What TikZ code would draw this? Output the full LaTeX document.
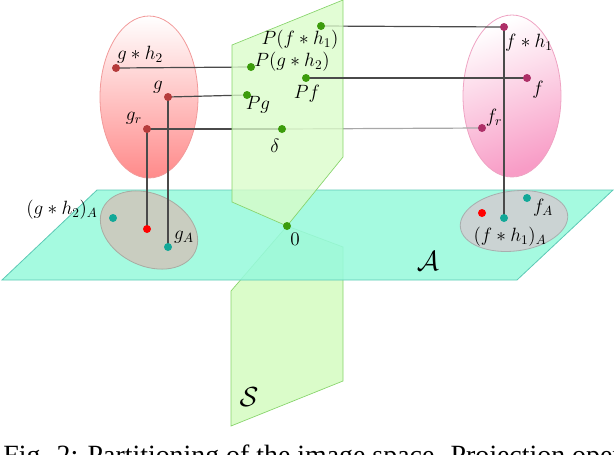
\documentclass[tikz,border=0pt]{standalone}
\usepackage{fontspec}
\newfontfamily\capfont{Liberation Serif}
\definecolor{cyanA}{HTML}{98F9DC}
\definecolor{cyanE}{HTML}{5CC9B5}
\definecolor{sgreen}{HTML}{DAFCC9}
\definecolor{sgreenE}{HTML}{86D46A}
\definecolor{greyL}{HTML}{C9CDC0}
\definecolor{greyLE}{HTML}{A9ABA2}
\definecolor{greyR}{HTML}{CBD3D3}
\definecolor{greyRE}{HTML}{A8AEAE}
\definecolor{redB}{HTML}{FF8A8A}
\definecolor{redM}{HTML}{FFD4D4}
\definecolor{redE}{HTML}{F29A9A}
\definecolor{pinkB}{HTML}{F89CC6}
\definecolor{pinkE}{HTML}{EFA3C3}
\definecolor{dotRed}{HTML}{B53B3B}
\definecolor{dotMag}{HTML}{AE3068}
\definecolor{dotGreen}{HTML}{3C9C0C}
\definecolor{dotTeal}{HTML}{12A898}
\definecolor{lineDark}{HTML}{4A4A4A}
\definecolor{lineLight}{HTML}{A8A8A8}
\begin{document}
\begin{tikzpicture}[x=0.75pt,y=-0.75pt,
  splane/.style={fill=sgreen, draw=sgreenE, line width=0.5pt},
  aplane/.style={fill=cyanA, draw=cyanE, line width=0.6pt},
  conn/.style={draw=lineDark, line width=0.9pt},
  connL/.style={draw=lineLight, line width=0.9pt},
  dotbase/.style={circle, inner sep=0pt, minimum size=6pt},
  rdot/.style={dotbase, fill=dotRed},
  mdot/.style={dotbase, fill=dotMag},
  gdot/.style={dotbase, fill=dotGreen},
  tdot/.style={dotbase, fill=dotTeal},
  xdot/.style={dotbase, fill=red},
  lbl/.style={inner sep=0pt, font=\fontsize{14}{16}\selectfont},
  biglbl/.style={inner sep=0pt, font=\fontsize{20}{22}\selectfont}]
\useasboundingbox (0,0) rectangle (614,454);
\clip (0,0) rectangle (614,454);

% point positions
\coordinate (gh2) at (116,68);
\coordinate (g) at (168,97);
\coordinate (gr) at (147,129);
\coordinate (Pfh1) at (321,26);
\coordinate (Pgh2) at (251,67);
\coordinate (Pf) at (306,78);
\coordinate (Pg) at (247,95);
\coordinate (delta) at (282,129);
\coordinate (fh1) at (504,27);
\coordinate (f) at (527,78);
\coordinate (fr) at (482,128);
\coordinate (gh2A) at (113,218);
\coordinate (gRed) at (147,229);
\coordinate (gA) at (168,247);
\coordinate (zero) at (287,226);
\coordinate (fRed) at (482,213);
\coordinate (fA) at (527,198);
\coordinate (fh1A) at (504,218);

% lower part of S
\draw[splane] (zero) -- (231,291) -- (231,426) -- (343,381) -- (343,247) -- cycle;
% plane A
\draw[aplane, fill opacity=0.88] (97,190) -- (613,190) -- (517,280) -- (2,280) -- cycle;
% grey sets on A
\draw[fill=greyL, draw=greyLE, line width=0.6pt, rotate around={-25:(149,230)}] (149,230) ellipse [x radius=51, y radius=36];
\draw[fill=greyR, draw=greyRE, line width=0.6pt, rotate around={7:(514,221)}] (514,221) ellipse [x radius=54, y radius=30];
% red and pink sets
\shade[top color=white, middle color=redM, bottom color=redB, draw=redE, line width=0.6pt] (149,97) ellipse [x radius=49, y radius=81];
\shade[top color=white, bottom color=pinkB, shading angle=20, draw=pinkE, line width=0.6pt] (512,96) ellipse [x radius=49, y radius=81];

% connectors under S
\draw[conn] (gh2) -- (Pgh2);
\draw[conn] (g) -- (Pg);
\draw[conn] (gr) -- (delta);
\draw[connL] (delta) -- (fr);
\draw[conn] (Pfh1) -- (fh1);
\draw[conn] (gr) -- (gRed);
\draw[conn] (g) -- (gA);
\draw[conn] (fh1) -- (fh1A);

% upper part of S
\draw[splane, fill opacity=0.78] (232,45) -- (343,0) -- (343,157) -- (zero) -- (232,202) -- cycle;
\draw[conn] (Pf) -- (f);

% dots
\node[rdot] (dgh2) at (gh2) {};
\node[rdot] (dg) at (g) {};
\node[rdot] (dgr) at (gr) {};
\node[gdot] (dPfh1) at (Pfh1) {};
\node[gdot] (dPgh2) at (Pgh2) {};
\node[gdot] (dPf) at (Pf) {};
\node[gdot] (dPg) at (Pg) {};
\node[gdot] (ddelta) at (delta) {};
\node[gdot] (dzero) at (zero) {};
\node[mdot] (dfh1) at (fh1) {};
\node[mdot] (df) at (f) {};
\node[mdot] (dfr) at (fr) {};
\node[tdot] (dgh2A) at (gh2A) {};
\node[xdot] (dgRed) at (gRed) {};
\node[tdot] (dgA) at (gA) {};
\node[xdot] (dfRed) at (fRed) {};
\node[tdot] (dfA) at (fA) {};
\node[tdot] (dfh1A) at (fh1A) {};

% labels
\node[lbl] (Lgh2) at (140,55) {$g*h_2$};
\node[lbl] (Lg) at (158,87) {$g$};
\node[lbl] (Lgr) at (134,118) {$g_r$};
\node[lbl] (LPfh1) at (300,40) {$P(f*h_1)$};
\node[lbl] (LPgh2) at (292,62) {$P(g*h_2)$};
\node[lbl] (LPf) at (307,94) {$Pf$};
\node[lbl] (LPg) at (258,105) {$Pg$};
\node[lbl] (Ldelta) at (275,146) {$\delta$};
\node[lbl] (Lfh1) at (529,43) {$f*h_1$};
\node[lbl] (Lf) at (538,90) {$f$};
\node[lbl] (Lfr) at (494,118) {$f_r$};
\node[lbl] (Lgh2A) at (62,210) {$(g*h_2)_A$};
\node[lbl] (LgA) at (184,237) {$g_A$};
\node[lbl] (Lzero) at (295,239) {$0$};
\node[lbl] (LfA) at (543,208) {$f_A$};
\node[lbl] (Lfh1A) at (510,237) {$(f*h_1)_A$};
\node[biglbl] (LA) at (428,261) {$\mathcal{A}$};
\node[biglbl] (LS) at (249,397) {$\mathcal{S}$};

% caption (cut by the frame, as in the reference)
\node[anchor=base west, inner sep=0pt, font=\capfont\fontsize{20.9}{24}\selectfont] (cap) at (3,464) {Fig. 2: Partitioning of the image space. Projection oper};
\end{tikzpicture}
\end{document}
